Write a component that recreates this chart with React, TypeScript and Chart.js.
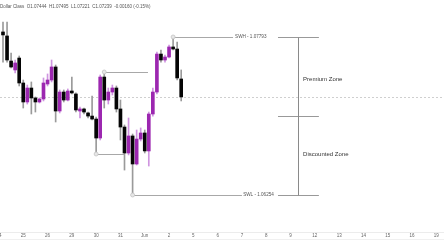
import React, { useEffect, useRef } from "react";
import { Chart, registerables } from "chart.js";

Chart.register(...registerables);

// 4h candles (index = bar number)
const OPEN = [
  1.07842, 1.07803, 1.07559, 1.07472, 1.07588, 1.07345, 1.0716, 1.07296, 1.07199, 1.0716,
  1.07189, 1.07335, 1.07374, 1.07501, 1.07072, 1.07257, 1.07179, 1.07267, 1.07238, 1.07072,
  1.07092, 1.07053, 1.07023, 1.06994, 1.06809, 1.07403, 1.07179, 1.07257, 1.07296, 1.07092,
  1.06916, 1.06663, 1.06829, 1.06556, 1.06799, 1.06858, 1.06683, 1.07043, 1.07257, 1.07627,
  1.07569, 1.07598, 1.07696, 1.07676, 1.07384,
];
const HIGH = [
  1.07939, 1.07939, 1.07637, 1.07569, 1.07608, 1.07374, 1.07325, 1.07355, 1.07209, 1.07199,
  1.07394, 1.07433, 1.07569, 1.0752, 1.07277, 1.07277, 1.07287, 1.07403, 1.07248, 1.07111,
  1.07101, 1.07062, 1.07218, 1.07014, 1.07423, 1.07452, 1.07296, 1.07325, 1.07316, 1.07179,
  1.06936, 1.07004, 1.06848, 1.06887, 1.06907, 1.06887, 1.07062, 1.07296, 1.07647, 1.07666,
  1.07618, 1.07715, 1.07793, 1.07744, 1.07472,
];
const LOW = [
  1.07549, 1.07549, 1.07491, 1.07442, 1.07316, 1.07101, 1.0714, 1.07043, 1.07062, 1.0715,
  1.0717, 1.07316, 1.07355, 1.06965, 1.07053, 1.0716, 1.0717, 1.07238, 1.07062, 1.07004,
  1.07043, 1.07004, 1.06985, 1.06653, 1.0679, 1.07101, 1.0714, 1.07228, 1.07062, 1.0679,
  1.06497, 1.06644, 1.06254, 1.06546, 1.0678, 1.06663, 1.06536, 1.07023, 1.07238, 1.07549,
  1.07549, 1.07588, 1.07666, 1.07374, 1.0717,
];
const CLOSE = [
  1.07813, 1.07569, 1.07501, 1.0754, 1.07345, 1.0716, 1.07296, 1.07199, 1.0716, 1.07189,
  1.07345, 1.07374, 1.07501, 1.07072, 1.07257, 1.07179, 1.07267, 1.07248, 1.07082, 1.07092,
  1.07062, 1.07023, 1.06994, 1.06809, 1.07403, 1.07179, 1.07257, 1.07296, 1.07092, 1.06916,
  1.06663, 1.06829, 1.06556, 1.06799, 1.06858, 1.06683, 1.07043, 1.07257, 1.07627, 1.07569,
  1.07598, 1.07696, 1.07676, 1.07394, 1.07209,
];

const TICK_INDEX = [-1, 5, 11, 17, 23, 29, 35, 41, 47, 53, 59, 65, 71, 77, 83, 89, 95, 101, 107];
const TICK_LABELS = ["24", "25", "26", "29", "30", "31", "Jun", "2", "5", "6", "7", "8", "9", "12", "13", "14", "15", "16", "19"];

const HEADER = "Dollar Class  O1.07444  H1.07495  L1.07221  C1.07239  -0.00160 (-0.15%)";

const SWH = 1.07793;
const SWL = 1.06254;
const SWH_INDEX = 42;
const SWL_INDEX = 32;
const MINOR_HIGH = { from: 25, to: 35.8, price: 1.07452 };
const MINOR_LOW = { from: 23, to: 29.9, price: 1.06653 };
const ZONE_X = 72.8;
const ZONE_SEG = [67.9, 78.0];
const SWH_TEXT_X = 57.3;
const SWL_TEXT_X = 59.3;
const ZONE_TEXT_X = 74.1;
const PREMIUM_Y = 1.07384;
const DISCOUNT_Y = 1.06653;

const X_MIN = -0.7407;
const X_MAX = 108.89;
const Y_MIN = 1.058935;
const Y_MAX = 1.081534;

const PURPLE = "#9C27B0";
const BLACK = "#050505";

const FONT = "'Liberation Sans', Arial, sans-serif";

export default function App() {
  const ref = useRef<HTMLCanvasElement | null>(null);

  useEffect(() => {
    if (!ref.current) return;
    const up = OPEN.map((o, i) => CLOSE[i] >= o);
    const bodies = OPEN.map((o, i) => ({ x: i, y: [o, CLOSE[i]] }));
    const wicks = OPEN.map((_, i) => ({ x: i, y: [LOW[i], HIGH[i]] }));

    const overlay = {
      id: "overlay",
      beforeDatasetsDraw(chart: any) {
        const ctx = chart.ctx;
        const xs = chart.scales.x;
        const ys = chart.scales.y;
        const X = (v: number) => xs.getPixelForValue(v);
        const Y = (v: number) => Math.round(ys.getPixelForValue(v)) + 0.5;
        const area = chart.chartArea;
        ctx.save();
        ctx.strokeStyle = "#cfcfcf";
        ctx.lineWidth = 1;
        ctx.setLineDash([2, 2]);
        ctx.beginPath();
        ctx.moveTo(0, Y(CLOSE[CLOSE.length - 1]));
        ctx.lineTo(chart.width, Y(CLOSE[CLOSE.length - 1]));
        ctx.stroke();
        ctx.setLineDash([]);

        ctx.strokeStyle = "#a8a8a8";
        const hline = (a: number, b: number, p: number) => {
          ctx.beginPath();
          ctx.moveTo(X(a), Y(p));
          ctx.lineTo(X(b), Y(p));
          ctx.stroke();
        };
        hline(MINOR_HIGH.from, MINOR_HIGH.to, MINOR_HIGH.price);
        hline(MINOR_LOW.from, MINOR_LOW.to, MINOR_LOW.price);
        hline(SWH_INDEX, SWH_TEXT_X - 0.5, SWH);
        hline(SWL_INDEX, SWL_TEXT_X - 0.3, SWL);
        ctx.strokeStyle = "#999";
        hline(ZONE_SEG[0], ZONE_SEG[1], SWH);
        hline(ZONE_SEG[0], ZONE_SEG[1], SWL);
        hline(ZONE_SEG[0], ZONE_SEG[1], (SWH + SWL) / 2);
        ctx.strokeStyle = "#8a8a8a";
        const vx = Math.round(X(ZONE_X)) + 0.5;
        ctx.beginPath();
        ctx.moveTo(vx, Y(SWH));
        ctx.lineTo(vx, Y(SWL));
        ctx.stroke();
        ctx.strokeStyle = "#b0b0b0";
        const vline = (i: number, p: number, q: number) => {
          const x = Math.round(X(i)) + 0.5;
          ctx.beginPath();
          ctx.moveTo(x, Y(p));
          ctx.lineTo(x, Y(q));
          ctx.stroke();
        };
        vline(MINOR_LOW.from, LOW[MINOR_LOW.from], MINOR_LOW.price);
        vline(SWL_INDEX, LOW[SWL_INDEX], SWL);
        ctx.restore();
      },
      afterDatasetsDraw(chart: any) {
        const ctx = chart.ctx;
        const xs = chart.scales.x;
        const ys = chart.scales.y;
        const X = (v: number) => xs.getPixelForValue(v);
        const Y = (v: number) => ys.getPixelForValue(v);
        ctx.save();
        const dot = (i: number, p: number) => {
          ctx.beginPath();
          ctx.arc(X(i), Y(p), 2, 0, Math.PI * 2);
          ctx.fillStyle = "#e6e6e6";
          ctx.fill();
          ctx.strokeStyle = "#c4c4c4";
          ctx.lineWidth = 0.8;
          ctx.stroke();
        };
        dot(MINOR_HIGH.from, MINOR_HIGH.price);
        dot(MINOR_LOW.from, MINOR_LOW.price);
        dot(SWH_INDEX, SWH);
        dot(SWL_INDEX, SWL);

        ctx.textBaseline = "middle";
        ctx.textAlign = "left";
        ctx.fillStyle = "#555";
        ctx.font = `4.6px ${FONT}`;
        ctx.fillText(`SWH - ${SWH.toFixed(5)}`, X(SWH_TEXT_X), Y(SWH));
        ctx.fillText(`SWL - ${SWL.toFixed(5)}`, X(SWL_TEXT_X), Y(SWL));
        ctx.fillStyle = "#333";
        ctx.font = `6px ${FONT}`;
        ctx.fillText("Premium Zone", X(ZONE_TEXT_X), Y(PREMIUM_Y));
        ctx.fillText("Discounted Zone", X(ZONE_TEXT_X), Y(DISCOUNT_Y));

        ctx.fillStyle = "#555";
        ctx.font = `4.5px ${FONT}`;
        ctx.fillText(HEADER, 0, 7);

        const b = chart.chartArea.bottom;
        ctx.strokeStyle = "#f0f0f0";
        ctx.lineWidth = 1;
        ctx.beginPath();
        ctx.moveTo(0, b + 7.5);
        ctx.lineTo(chart.width, b + 7.5);
        ctx.stroke();
        ctx.restore();
      },
    };

    const chart = new Chart(ref.current, {
      type: "bar",
      data: {
        datasets: [
          {
            data: bodies as any,
            backgroundColor: up.map((u) => (u ? PURPLE : BLACK)),
            borderWidth: 0,
            barThickness: 3,
            minBarLength: 1,
            grouped: false,
          } as any,
          {
            data: wicks as any,
            backgroundColor: up.map((u) => (u ? "#cf95e0" : "#9a9a9a")),
            borderWidth: 0,
            barThickness: 1,
            grouped: false,
          } as any,
        ],
      },
      options: {
        responsive: false,
        animation: false,
        devicePixelRatio: 1,
        layout: { padding: 0, autoPadding: false },
        plugins: { legend: { display: false }, tooltip: { enabled: false } },
        scales: {
          x: {
            type: "linear",
            offset: false,
            min: X_MIN,
            max: X_MAX,
            grid: { display: false, drawTicks: false, tickLength: 0, offset: false },
            border: { display: true, color: "#ececec" },
            afterBuildTicks: (scale: any) => {
              scale.ticks = TICK_INDEX.map((v) => ({ value: v }));
            },
            afterFit: (scale: any) => {
              scale.height = 18;
              scale.paddingLeft = 0;
              scale.paddingRight = 0;
            },
            ticks: {
              autoSkip: false,
              maxRotation: 0,
              padding: 1,
              color: "#666",
              font: { size: 4.5, family: FONT },
              callback: (v: any) => {
                const k = TICK_INDEX.indexOf(Number(v));
                return k >= 0 ? TICK_LABELS[k] : "";
              },
            },
          },
          y: {
            display: false,
            min: Y_MIN,
            max: Y_MAX,
          },
        },
      },
      plugins: [overlay],
    });
    return () => chart.destroy();
  }, []);

  return (
    <div style={{ position: "fixed", left: 0, top: 0, width: 444, height: 250, background: "#fff" }}>
      <canvas ref={ref} width={444} height={250} style={{ display: "block" }} />
    </div>
  );
}
